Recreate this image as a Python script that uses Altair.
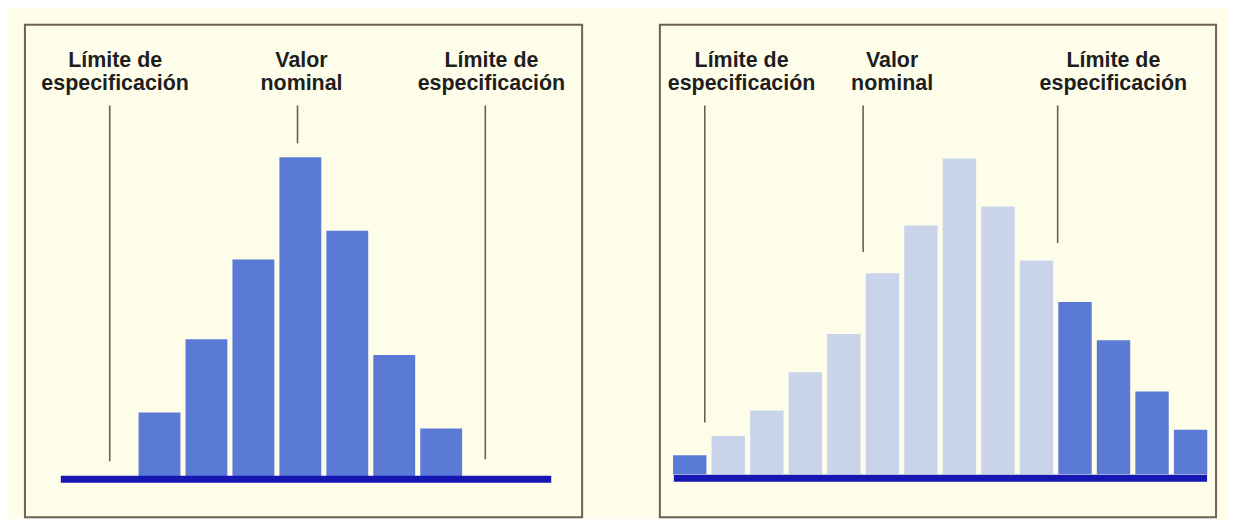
import altair as alt
import pandas as pd

# ---------------- data ----------------
# Left panel: process centred on the nominal value, all inside the limits
left_bins = [0, 1, 2, 3, 4, 5, 6]
left_counts = [20, 43, 68, 100, 77, 38, 15]
left_limits = [-1.06, 2.94, 6.94]          # LSL, nominal, USL (bin units)

# Right panel: wider, shifted process, some bins outside the limits
right_bins = list(range(14))
right_counts = [6, 12, 20, 32, 44, 63, 78, 99, 84, 67, 54, 42, 26, 14]
right_limits = [0.39, 4.5, 9.55]           # LSL, nominal, USL (bin units)

label_texts = ["Límite de\nespecificación", "Valor\nnominal", "Límite de\nespecificación"]
left_label_x = [-0.945, 3.025, 7.07]
right_label_x = [1.345, 5.252, 10.996]

# ---------------- styles ----------------
CREAM = "#FDFDEA"
DARK = "#5A7AD6"
LIGHT = "#C9D3EA"
BASE = "#1616B2"
FRAME = "#6E6250"
LINE = "#6B6050"
FONT = "Liberation Sans"

W, H = 559, 494


def panel(bins, counts, limits, label_x, xdom, ydom, bar_size, color_by_status,
          line_top, line_bottoms, base_x, base_x2, base_y, width):
    lsl, nom, usl = limits
    df = pd.DataFrame({"bin": bins, "count": counts})
    df["status"] = ["fuera" if (b < lsl or b > usl) else "dentro" for b in bins]
    xs = alt.Scale(domain=xdom, nice=False, zero=False, padding=0)
    ys = alt.Scale(domain=ydom, nice=False, zero=False, padding=0)

    if color_by_status:
        col = alt.Color("status:N", scale=alt.Scale(domain=["dentro", "fuera"], range=[LIGHT, DARK]), legend=None)
    else:
        col = alt.value(DARK)

    bars = alt.Chart(df).mark_bar(size=bar_size).encode(
        x=alt.X("bin:Q", scale=xs, axis=None),
        y=alt.Y("count:Q", scale=ys, axis=None),
        color=col,
    )

    base = alt.Chart(pd.DataFrame({"k": [0]})).mark_rule(color=BASE, strokeWidth=7).encode(
        x=alt.value(base_x), x2=alt.value(base_x2), y=alt.value(base_y)
    )

    ldf = pd.DataFrame({"pos": limits, "top": [line_top] * 3, "bottom": line_bottoms})
    lines = alt.Chart(ldf).mark_rule(color=LINE, strokeWidth=1.6).encode(
        x=alt.X("pos:Q", scale=xs, axis=None),
        y=alt.Y("top:Q", scale=None),
        y2="bottom:Q",
    )

    tdf = pd.DataFrame({"pos": label_x, "label": label_texts})
    texts = alt.Chart(tdf).mark_text(
        align="center", baseline="alphabetic", lineBreak="\n", lineHeight=23,
        font=FONT, fontSize=21.5, fontWeight="bold", color="#1E1E1E",
    ).encode(
        x=alt.X("pos:Q", scale=xs, axis=None),
        y=alt.value(42),
        text="label:N",
    )

    return alt.layer(bars, base, lines, texts).properties(width=width, height=H)


left = panel(
    left_bins, left_counts, left_limits, left_label_x,
    xdom=[-2.866, 9.002], ydom=[-12.8125, 141.5625], bar_size=42,
    color_by_status=False, line_top=81, line_bottoms=[438, 119, 436],
    base_x=36, base_x2=528, base_y=456, width=559,
)

right = panel(
    right_bins, right_counts, right_limits, right_label_x,
    xdom=[-0.776, 13.661], ydom=[-13.4375, 140.9375], bar_size=33.5,
    color_by_status=True, line_top=81, line_bottoms=[399, 228, 219],
    base_x=14, base_x2=549, base_y=455, width=558,
)

chart = alt.hconcat(left, right, spacing=76).resolve_scale(
    x="independent", y="independent", color="independent"
).properties(
    padding={"left": 16, "top": 15, "right": 11, "bottom": 0},
    background=CREAM,
).configure_view(
    stroke=FRAME, strokeWidth=2, fill=CREAM
)

chart.save("out.html", embed_options={"renderer": "svg", "actions": False})
